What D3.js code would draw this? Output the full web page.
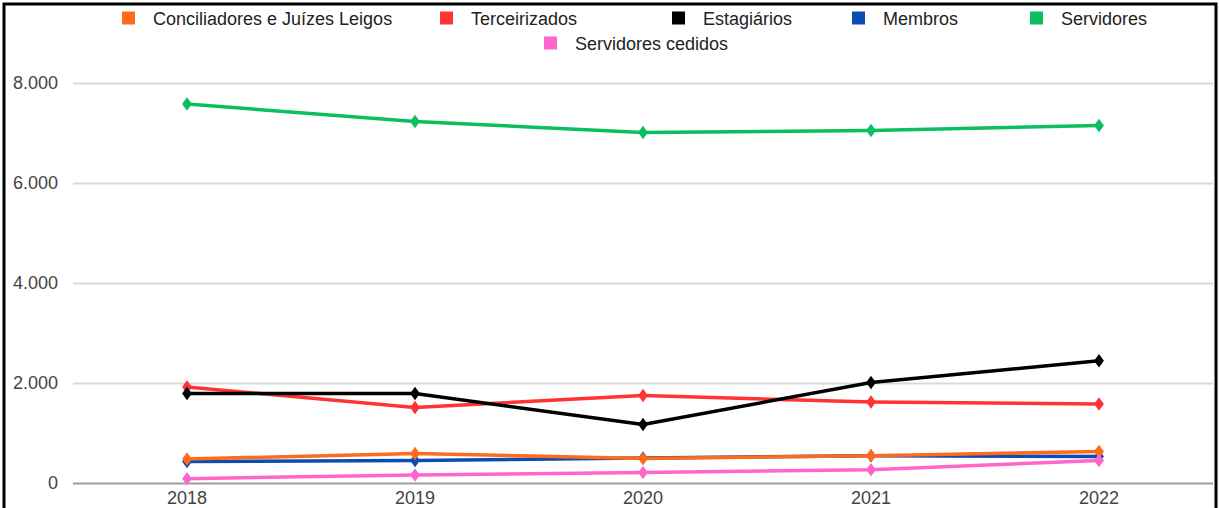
<!DOCTYPE html>
<html>
<head>
<meta charset="utf-8">
<script src="https://cdn.jsdelivr.net/npm/d3@7"></script>
<style>
  body { margin: 0; background: #fff; }
  svg { display: block; font-family: "Liberation Sans", Arial, sans-serif; }
  .tick text { fill: #444; font-size: 18px; }
  .legend text { fill: #222; font-size: 18px; }
</style>
</head>
<body>
<div class="line-chart"></div>
<script>
const years = ["2018", "2019", "2020", "2021", "2022"];
const yTicks = [0, 2000, 4000, 6000, 8000];

const conciliadores = [480, 590, 490, 545, 630];
const terceirizados = [1920, 1510, 1750, 1620, 1580];
const estagiarios = [1790, 1790, 1170, 2010, 2445];
const membros = [430, 450, 500, 545, 530];
const servidores = [7580, 7230, 7010, 7050, 7150];
const servidoresCedidos = [86, 160, 210, 265, 450];

const seriesNames = ["Conciliadores e Juízes Leigos", "Terceirizados", "Estagiários", "Membros", "Servidores", "Servidores cedidos"];
const seriesColors = ["#ff6a1c", "#ff3333", "#000000", "#0b4db0", "#0bbf5e", "#ff66cc"];
const seriesValues = [conciliadores, terceirizados, estagiarios, membros, servidores, servidoresCedidos];
// draw order: blue first so the orange line sits on top of it
const drawOrder = [3, 0, 1, 2, 4, 5];

const width = 1219, height = 508;

const svg = d3.select(".line-chart")
  .append("svg")
  .attr("width", width)
  .attr("height", height);

const x = d3.scaleBand().domain(years).range([73, 1213]);
const y = d3.scaleLinear().domain([0, 8000]).range([483, 83]);

// gridlines
svg.append("g")
  .attr("transform", "translate(73,0)")
  .call(d3.axisLeft(y).tickValues(yTicks).tickSize(-1140).tickFormat(""))
  .call(g => g.select(".domain").remove())
  .call(g => g.selectAll(".tick line")
    .attr("stroke", d => d === 0 ? "#9e9e9e" : "#d9d9d9")
    .attr("stroke-width", 2));

// y labels
svg.append("g")
  .attr("transform", "translate(58,0)")
  .call(d3.axisLeft(y).tickValues(yTicks).tickSize(0).tickPadding(0)
    .tickFormat(d => d3.format(",")(d).replace(/,/g, ".")))
  .call(g => g.select(".domain").remove());

// x labels (sit right at the bottom edge, like the original)
svg.append("g")
  .attr("transform", "translate(0,488)")
  .call(d3.axisBottom(x).tickSize(0).tickPadding(0))
  .call(g => g.select(".domain").remove())
  .call(g => g.selectAll(".tick text").attr("dy", "0.9em"));

const line = d3.line()
  .x((d, i) => x(years[i]) + x.bandwidth() / 2)
  .y(d => y(d));

const diamond = d3.symbol().type(d3.symbolDiamond2).size(85);

drawOrder.forEach(s => {
  const g = svg.append("g");
  g.append("path")
    .datum(seriesValues[s])
    .attr("d", line)
    .attr("fill", "none")
    .attr("stroke", seriesColors[s])
    .attr("stroke-width", 3.5)
    .attr("stroke-linejoin", "round");
  g.selectAll("path.pt")
    .data(seriesValues[s])
    .enter()
    .append("path")
    .attr("class", "pt")
    .attr("d", diamond)
    .attr("transform", (d, i) => "translate(" + (x(years[i]) + x.bandwidth() / 2) + "," + y(d) + ") scale(0.85,1.15)")
    .attr("fill", seriesColors[s]);
});

// legend
const legendPos = [[122, 18], [440, 18], [672, 18], [852, 18], [1030, 18], [544, 43]];
const legend = svg.append("g").attr("class", "legend");
seriesNames.forEach((name, i) => {
  const [lx, ly] = legendPos[i];
  legend.append("rect")
    .attr("x", lx).attr("y", ly - 6.5)
    .attr("width", 13).attr("height", 13)
    .attr("fill", seriesColors[i]);
  legend.append("text")
    .attr("x", lx + 31).attr("y", ly + 6.5)
    .text(name);
});

// outer frame
svg.append("rect")
  .attr("x", 4).attr("y", 4)
  .attr("width", 1212).attr("height", 520)
  .attr("fill", "none")
  .attr("stroke", "#000")
  .attr("stroke-width", 3);
</script>
</body>
</html>
